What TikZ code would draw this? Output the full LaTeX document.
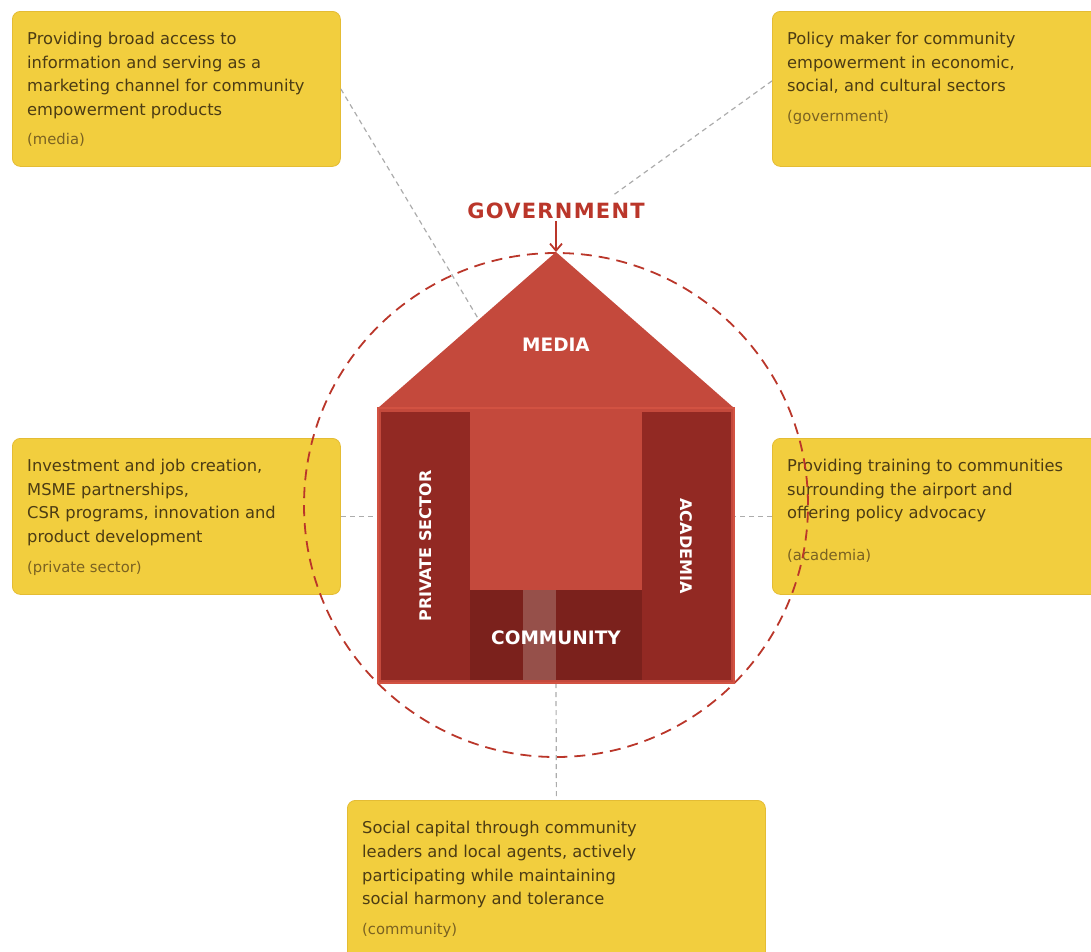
\documentclass[tikz,border=0pt]{standalone}
\usepackage{fontspec}
\setmainfont{DejaVu Sans}
\newfontfamily\trackedfont[LetterSpace=6]{DejaVu Sans}
\usetikzlibrary{arrows.meta,calc}
\definecolor{cardfill}{RGB}{242,206,62}
\definecolor{cardline}{RGB}{228,188,52}
\definecolor{cardink}{RGB}{76,60,20}
\definecolor{cardsub}{RGB}{122,98,34}
\definecolor{housered}{RGB}{196,73,60}
\definecolor{houseedge}{RGB}{210,82,66}
\definecolor{pillarred}{RGB}{146,41,35}
\definecolor{commred}{RGB}{123,33,28}
\definecolor{stripred}{RGB}{150,80,74}
\definecolor{ringred}{RGB}{186,54,42}
\definecolor{linkgray}{RGB}{172,172,172}
\newcommand{\cardrole}[1]{{\color{cardsub}\fontsize{14.8}{23.7}\selectfont #1}}

\begin{document}
\begin{tikzpicture}[
    x=1pt, y=-1pt,
    card/.style={rectangle, draw=cardline, fill=cardfill, line width=0.8pt, rounded corners=8pt, anchor=north west, inner sep=0pt, minimum height=155},
    cardtext/.style={anchor=north west, inner sep=0pt, align=left, text=cardink, font=\fontsize{16.3}{23.7}\selectfont},
    pillar/.style={rectangle, fill=pillarred, inner sep=0pt, text=white, font=\fontsize{16}{18}\selectfont\bfseries},
    houselabel/.style={inner sep=0pt, text=white, font=\fontsize{18.5}{20}\selectfont\bfseries},
    ring/.style={draw=ringred, line width=1.8pt, dash pattern=on 11pt off 7pt},
    link/.style={draw=linkgray, line width=1.2pt, dash pattern=on 5pt off 4pt}
]
    \useasboundingbox (0,0) rectangle (1091,951);
    \clip (0,0) rectangle (1091,951);

    % Role cards
    \node[card, minimum width=328] (mediabox) at (12,11) {};
    \node[cardtext] at ([shift={(15,21)}]mediabox.north west) {Providing broad access to\\
        information and serving as a\\
        marketing channel for community\\
        empowerment products\\[5pt]
        \cardrole{(media)}};

    \node[card, minimum width=340] (govbox) at (772,11) {};
    \node[cardtext] at ([shift={(15,21)}]govbox.north west) {Policy maker for community\\
        empowerment in economic,\\
        social, and cultural sectors\\[6pt]
        \cardrole{(government)}};

    \node[card, minimum width=328, minimum height=156] (privbox) at (12,438) {};
    \node[cardtext] at ([shift={(15,21)}]privbox.north west) {Investment and job creation,\\
        MSME partnerships,\\
        CSR programs, innovation and\\
        product development\\[6pt]
        \cardrole{(private sector)}};

    \node[card, minimum width=340, minimum height=156] (acadbox) at (772,438) {};
    \node[cardtext] at ([shift={(15,21)}]acadbox.north west) {Providing training to communities\\
        surrounding the airport and\\
        offering policy advocacy\\[18pt]
        \cardrole{(academia)}};

    \node[card, minimum width=418, minimum height=175] (commbox) at (347,800) {};
    \node[cardtext] at ([shift={(15,21)}]commbox.north west) {Social capital through community\\
        leaders and local agents, actively\\
        participating while maintaining\\
        social harmony and tolerance\\[6pt]
        \cardrole{(community)}};

    % Dashed ring around the house
    \draw[ring] (556,505) circle[radius=252pt];

    % House frame
    \coordinate (apex) at (556,252);
    \coordinate (mediaend) at (482,325);
    \coordinate (govend) at (612,196);
    \node[rectangle, inner sep=0pt, minimum width=356, minimum height=275] (body) at (556,545.5) {};

    % Connectors from the cards
    \draw[link] (mediabox.east) -- (mediaend);
    \draw[link] ($(govbox.west)+(0,-8)$) -- (govend);
    \draw[link] (privbox.east) -- (privbox.east -| body.west);
    \draw[link] (acadbox.west) -- (acadbox.west -| body.east);
    \draw[link] (body.south) -- (commbox.north);

    % Roof and walls
    \fill[housered] (apex) -- (378,408) -- (734,408) -- cycle;
    \draw[houseedge, fill=housered, line width=2.5pt] (body.north west) rectangle (body.south east);
    \node[houselabel] (media) at (556,345) {MEDIA};

    \node[pillar, rotate=90, minimum width=268, minimum height=89] (private) at (425.5,546) {PRIVATE SECTOR};
    \node[pillar, rotate=-90, minimum width=268, minimum height=89] (academia) at (686.5,546) {ACADEMIA};

    \node[rectangle, fill=commred, inner sep=0pt, minimum width=172, minimum height=90] (commblock) at (556,635) {};
    \fill[stripred] (523,590) rectangle (556,680);
    \node[houselabel] (community) at (556,638) {COMMUNITY};

    % Government on top
    \node[text=ringred, inner sep=2pt, font=\fontsize{21}{24}\trackedfont\bfseries] (gov) at (556,211) {GOVERNMENT};
    \draw[ringred, line width=1.8pt, -{Straight Barb[length=7pt, width=12pt]}] (gov.south) -- (apex);
\end{tikzpicture}
\end{document}
